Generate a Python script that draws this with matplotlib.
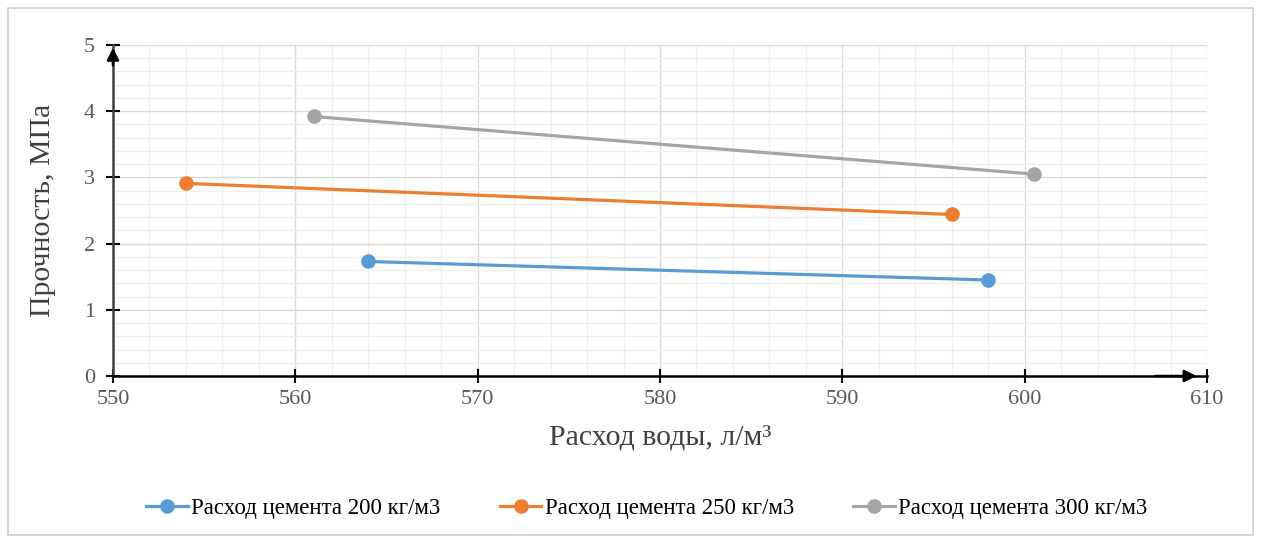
import matplotlib.pyplot as plt
import matplotlib.patches as mpatches
from matplotlib.ticker import MultipleLocator

# данные
water_200 = [564, 598]
strength_200 = [1.73, 1.45]
water_250 = [554, 596]
strength_250 = [2.91, 2.44]
water_300 = [561, 600.5]
strength_300 = [3.92, 3.05]

labels = ['Расход цемента 200 кг/м3', 'Расход цемента 250 кг/м3', 'Расход цемента 300 кг/м3']
colors = ['#5B9BD5', '#ED7D31', '#A5A5A5']

plt.rcParams['font.family'] = ['Liberation Serif', 'DejaVu Serif']

fig = plt.figure(figsize=(12.61, 5.40), dpi=100)
ax = fig.add_axes([113 / 1261, 1 - 376 / 540, (1207 - 113) / 1261, (376 - 45) / 540])

# рамка вокруг диаграммы
fig.patches.append(mpatches.Rectangle((8 / 1261, 5 / 540), 1245 / 1261, 527 / 540,
                                      transform=fig.transFigure, fill=False,
                                      edgecolor='#D0D0D0', linewidth=1.2))

series = [(water_200, strength_200), (water_250, strength_250), (water_300, strength_300)]
for (x, y), lab, c in zip(series, labels, colors):
    ax.plot(x, y, '-o', color=c, linewidth=2.3, markersize=9.5, label=lab, zorder=3)

ax.set_xlim(550, 610)
ax.set_ylim(0, 5)
ax.xaxis.set_major_locator(MultipleLocator(10))
ax.xaxis.set_minor_locator(MultipleLocator(2))
ax.yaxis.set_major_locator(MultipleLocator(1))
ax.yaxis.set_minor_locator(MultipleLocator(0.2))
ax.grid(which='major', color='#D9D9D9', linewidth=1.0, zorder=0)
ax.grid(which='minor', color='#EFEFEF', linewidth=0.9, zorder=0)
ax.set_axisbelow(True)

for s in ['top', 'right']:
    ax.spines[s].set_visible(False)
ax.spines['left'].set_color('#404040')
ax.spines['left'].set_linewidth(1.8)
ax.spines['bottom'].set_color('black')
ax.spines['bottom'].set_linewidth(1.8)

ax.tick_params(which='major', direction='inout', length=10, width=1.5,
               labelsize=16, labelcolor='#595959', pad=5)
ax.tick_params(axis='y', pad=8)
ax.tick_params(which='minor', length=0)

# стрелки осей
ax.annotate('', xy=(0, 1.0), xytext=(0, 0.93), xycoords='axes fraction',
            arrowprops=dict(arrowstyle='-|>', color='black', lw=1.8, mutation_scale=18))
ax.annotate('', xy=(0.993, 0), xytext=(0.95, 0), xycoords='axes fraction',
            arrowprops=dict(arrowstyle='-|>', color='black', lw=1.8, mutation_scale=18))

ax.set_xlabel('Расход воды, л/м³', fontsize=21.5, color='#404040', labelpad=11)
ax.set_ylabel('Прочность, МПа', fontsize=21.5, color='#404040', labelpad=20)

fig.legend(loc='center', bbox_to_anchor=(0.513, 1 - 508 / 540), ncol=3, frameon=False,
           fontsize=16.5, handlelength=1.8, columnspacing=2.6, handletextpad=0.15)

fig.savefig('out.png', dpi=100)
